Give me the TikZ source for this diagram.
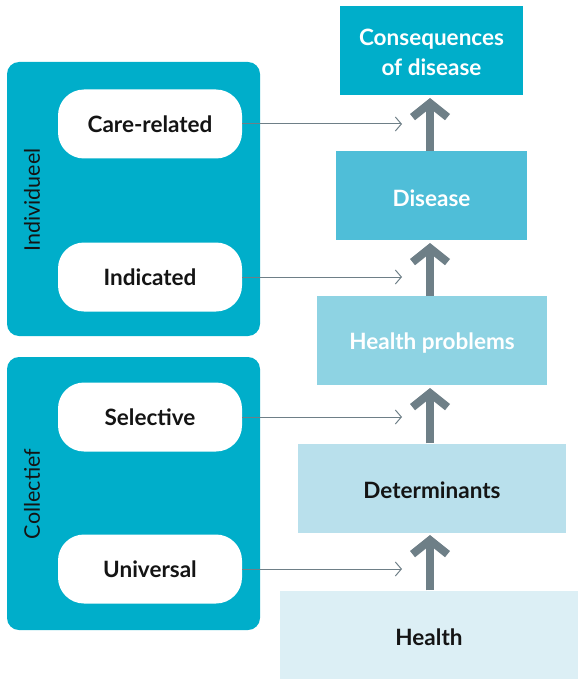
\documentclass[tikz,border=0pt]{standalone}
\usepackage{fontspec}
\setmainfont{Lato}
\usetikzlibrary{arrows.meta}
\definecolor{cteal}{RGB}{0,174,202}
\definecolor{cdis}{RGB}{79,190,216}
\definecolor{chp}{RGB}{142,211,227}
\definecolor{cdet}{RGB}{185,224,236}
\definecolor{chea}{RGB}{220,239,245}
\definecolor{cgray}{RGB}{110,127,135}
\definecolor{ctext}{RGB}{20,20,20}
\tikzset{
  lvl/.style={draw=none, minimum height=89pt, inner sep=0pt},
  lvltext/.style={inner sep=0pt, align=center, font=\fontsize{22.5}{30}\selectfont\bfseries},
  group/.style={fill=cteal, rounded corners=12pt},
  pill/.style={fill=white, rounded corners=26pt, minimum width=184pt, minimum height=69pt, inner sep=0pt, font=\fontsize{22.5}{28}\selectfont\bfseries, text=ctext},
  glabel/.style={rotate=90, font=\fontsize{21.5}{26}\selectfont, text=ctext},
  bigarrow/.style={draw=cgray, line width=8pt, -{Straight Barb[length=14pt, width=35pt, line width=8pt]}},
  thin/.style={draw=cgray, line width=1pt, -{Straight Barb[length=6pt, width=14pt, line width=1pt]}}
}
\begin{document}
\begin{tikzpicture}[x=1pt,y=-1pt]
\useasboundingbox (0,0) rectangle (579,679);
% right levels
\node[lvl, fill=cteal, minimum width=183pt] (cons) at (431.5,50.5) {};
\node[lvl, fill=cdis, minimum width=191pt] (dis) at (431.5,195.5) {};
\node[lvl, fill=chp, minimum width=230pt] (hp) at (432,340.5) {};
\node[lvl, fill=cdet, minimum width=268pt] (det) at (432,488) {};
\node[lvl, fill=chea, minimum width=298pt, minimum height=88pt] (hea) at (429,634.5) {};
\node[lvltext, text=white] (consT) at ([yshift=-2pt]cons.center) {Consequences\\of disease};
\node[lvltext, text=white] (disT) at ([yshift=-2.5pt]dis.center) {Disease};
\node[lvltext, text=white] (hpT) at ([yshift=-2.5pt]hp.center) {Health problems};
\node[lvltext, text=ctext] (detT) at ([yshift=-2.5pt]det.center) {Determinants};
\node[lvltext, text=ctext] (heaT) at ([yshift=-2.5pt]hea.center) {Health};
% thick arrows
\draw[bigarrow] (hea.north -| 430,0) -- (430,535);
\draw[bigarrow] (det.north -| 430,0) -- (430,388);
\draw[bigarrow] (hp.north -| 430,0) -- (430,243);
\draw[bigarrow] (dis.north -| 430,0) -- (430,98);
% groups
\path[group] (7,62) rectangle (260,336);
\path[group] (7,357) rectangle (260,630);
\node[glabel] (gi) at (32,200) {Individueel};
\node[glabel] (gc) at (32,494) {Collectief};
% pills
\node[pill] (care) at (150,124) {Care-related};
\node[pill] (ind) at (150,277) {Indicated};
\node[pill] (sel) at (150,417) {Selective};
\node[pill] (uni) at (150,569) {Universal};
% thin arrows
\coordinate (t1) at (402,124);
\coordinate (t2) at (402,277);
\coordinate (t3) at (402,417);
\coordinate (t4) at (402,569);
\draw[thin] (care.east) -- (t1);
\draw[thin] (ind.east) -- (t2);
\draw[thin] (sel.east) -- (t3);
\draw[thin] (uni.east) -- (t4);
\end{tikzpicture}
\end{document}
